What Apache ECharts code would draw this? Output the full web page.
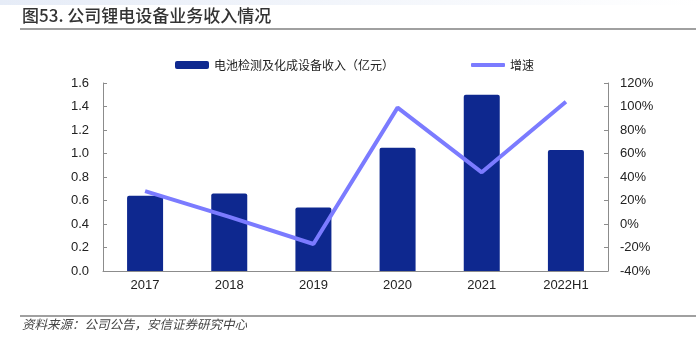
<!DOCTYPE html>
<html>
<head>
<meta charset="utf-8">
<script src="https://cdn.jsdelivr.net/npm/echarts@6/dist/echarts.min.js"></script>
<style>
  html, body { margin: 0; padding: 0; background: #fff; }
  #chart { width: 699px; height: 339px; }
</style>
</head>
<body>
<div id="chart"></div>
<script>
// Battery equipment business: revenue (100M CNY) and growth rate
const categories = ['2017', '2018', '2019', '2020', '2021', '2022H1'];
const revenue = [0.64, 0.66, 0.54, 1.05, 1.50, 1.03];
const growth = [28, 6, -17, 99, 44, 104];
const leftTicks = { min: 0, max: 1.6, interval: 0.2 };
const rightTicks = { min: -40, max: 120, interval: 20 };

const barName = '电池检测及化成设备收入（亿元）';
const lineName = '增速';

const barColor = '#0e288f';
const lineColor = '#7b7bff';

const chart = echarts.init(document.getElementById('chart'), null, { renderer: 'canvas' });
const axisColor = '#8c8c8c';
const labelFont = { color: '#222', fontSize: 13, fontFamily: 'Liberation Sans, Arial, sans-serif' };
const legendText = { color: '#222', fontSize: 12, fontFamily: '"Noto Sans CJK SC", sans-serif' };

chart.setOption({
  backgroundColor: '#fff',
  animation: false,
  graphic: [
    {
      type: 'rect', left: 0, top: 0, shape: { width: 699, height: 5 }, silent: true,
      style: {
        fill: new echarts.graphic.LinearGradient(0, 0, 1, 0, [
          { offset: 0, color: '#e6ecf7' },
          { offset: 1, color: '#ffffff' }
        ])
      }
    },
    {
      type: 'text', left: 22, top: 7,
      style: { text: '图53. 公司锂电设备业务收入情况', fill: '#333', font: '500 17px "Noto Sans CJK SC", sans-serif' }
    },
    { type: 'rect', left: 20, top: 28, shape: { width: 676, height: 2 }, style: { fill: '#a0a0a0' } },
    { type: 'rect', left: 20, top: 315, shape: { width: 676, height: 2 }, style: { fill: '#a0a0a0' } },
    {
      type: 'text', left: 22, top: 318,
      style: { text: '资料来源：公司公告，安信证券研究中心', fill: '#444', font: 'italic 12.5px "Noto Sans CJK SC", sans-serif' }
    }
  ],
  legend: [
    {
      top: 54,
      left: 170,
      itemWidth: 34,
      itemHeight: 8,
      itemGap: 4,
      textStyle: legendText,
      data: [{ name: barName, icon: 'roundRect' }]
    },
    {
      top: 54,
      left: 466,
      itemWidth: 34,
      itemHeight: 4,
      textStyle: legendText,
      data: [{ name: lineName, icon: 'roundRect', itemStyle: { color: lineColor } }]
    }
  ],
  grid: { left: 103, right: 91, top: 83, bottom: 68 },
  xAxis: {
    type: 'category',
    data: categories,
    axisLine: { lineStyle: { color: axisColor } },
    axisTick: { inside: true, length: 4, lineStyle: { color: axisColor } },
    axisLabel: Object.assign({ margin: 8 }, labelFont)
  },
  yAxis: [
    {
      type: 'value',
      min: leftTicks.min, max: leftTicks.max, interval: leftTicks.interval,
      axisLine: { show: true, lineStyle: { color: axisColor } },
      axisTick: { show: true, inside: true, length: 4, lineStyle: { color: axisColor } },
      splitLine: { show: false },
      axisLabel: Object.assign({ margin: 14, formatter: v => v.toFixed(1) }, labelFont)
    },
    {
      type: 'value',
      min: rightTicks.min, max: rightTicks.max, interval: rightTicks.interval,
      axisLine: { show: true, lineStyle: { color: axisColor } },
      axisTick: { show: true, inside: true, length: 4, lineStyle: { color: axisColor } },
      splitLine: { show: false },
      axisLabel: Object.assign({ margin: 12, formatter: v => v + '%' }, labelFont)
    }
  ],
  series: [
    {
      name: barName,
      type: 'bar',
      data: revenue,
      barWidth: 36,
      itemStyle: { color: barColor, borderRadius: [2, 2, 0, 0] }
    },
    {
      name: lineName,
      type: 'line',
      yAxisIndex: 1,
      data: growth,
      symbol: 'none',
      lineStyle: { color: lineColor, width: 4 },
      itemStyle: { color: lineColor }
    }
  ]
});
</script>
</body>
</html>
